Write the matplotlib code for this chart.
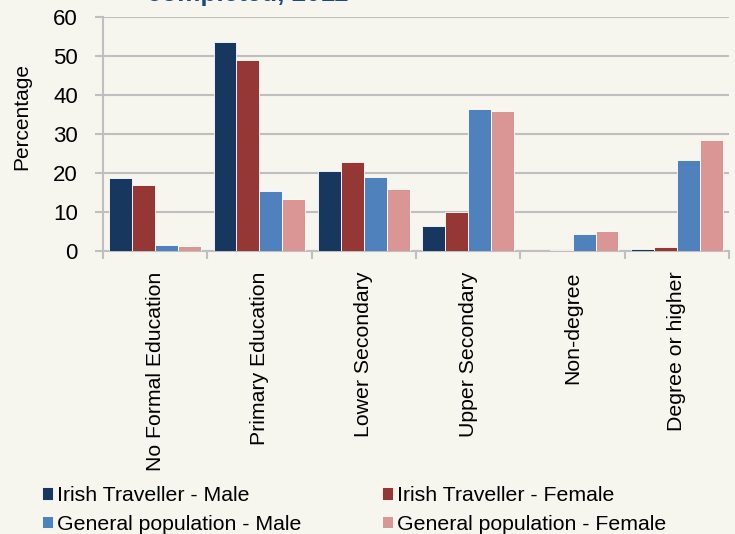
import numpy as np
import matplotlib
matplotlib.use("Agg")
import matplotlib.pyplot as plt

plt.rcParams['font.family'] = ['Liberation Sans', 'DejaVu Sans']

categories = ["No Formal Education", "Primary Education", "Lower Secondary",
              "Upper Secondary", "Non-degree", "Degree or higher"]
series_names = ["Irish Traveller - Male", "Irish Traveller - Female",
                "General population - Male", "General population - Female"]
it_male = [18.7, 53.7, 20.6, 6.3, 0.0, 0.5]
it_female = [17.0, 49.0, 22.8, 10.0, 0.3, 1.0]
gp_male = [1.5, 15.3, 19.0, 36.5, 4.3, 23.3]
gp_female = [1.2, 13.4, 15.9, 35.8, 5.2, 28.4]
y_ticks = [0, 10, 20, 30, 40, 50, 60]

colors = ["#17375E", "#953735", "#4F81BD", "#D99694"]
bg = "#F6F6EF"
grid_c = "#BFBFBF"

fig = plt.figure(figsize=(7.35, 5.34), dpi=100, facecolor=bg)
ax = fig.add_axes([0.140, 0.530, 0.852, 0.438], facecolor=bg)

x = np.arange(len(categories))
w = 0.22
for i, vals in enumerate([it_male, it_female, gp_male, gp_female]):
    ax.bar(x + (i - 1.5) * w, vals, w, color=colors[i], edgecolor="white",
           linewidth=0.6, label=series_names[i], zorder=3)

ax.set_xlim(-0.5, len(categories) - 0.5)
ax.set_ylim(0, 60)
ax.set_yticks(y_ticks)
ax.yaxis.grid(True, color=grid_c, linewidth=1.5, zorder=0)
ax.set_axisbelow(True)
for s in ["top", "right"]:
    ax.spines[s].set_visible(False)
for s in ["left", "bottom"]:
    ax.spines[s].set_color(grid_c)
    ax.spines[s].set_linewidth(1.5)

ax.set_xticks(x)
ax.set_xticklabels(categories, rotation=90, fontsize=15.3)
ax.tick_params(axis="x", length=0, pad=15)
ax.set_xticks(np.arange(len(categories) + 1) - 0.5, minor=True)
ax.tick_params(axis="x", which="minor", length=6, color=grid_c, width=1.5)
ax.tick_params(axis="y", labelsize=16, length=6, color=grid_c, width=1.5, pad=12)

fig.text(22 / 735, 1 - 117 / 534, "Percentage", rotation=90, fontsize=15,
         ha="center", va="center")
fig.text(147 / 735, 1 - 1 / 534, "completed, 2011", fontsize=18.7,
         fontweight="bold", color="#1F497D", ha="left", va="baseline")

handles, labels = ax.get_legend_handles_labels()
order = [0, 2, 1, 3]
fig.legend([handles[k] for k in order], [labels[k] for k in order],
           loc="upper left", bbox_to_anchor=(42 / 735, 1 - 486 / 534), ncol=2,
           frameon=False, fontsize=15.3, handlelength=0.5, handleheight=0.5,
           handletextpad=0.2, columnspacing=3.8, labelspacing=0.45,
           borderpad=0, borderaxespad=0)

fig.savefig("out.png", dpi=100, facecolor=bg)
